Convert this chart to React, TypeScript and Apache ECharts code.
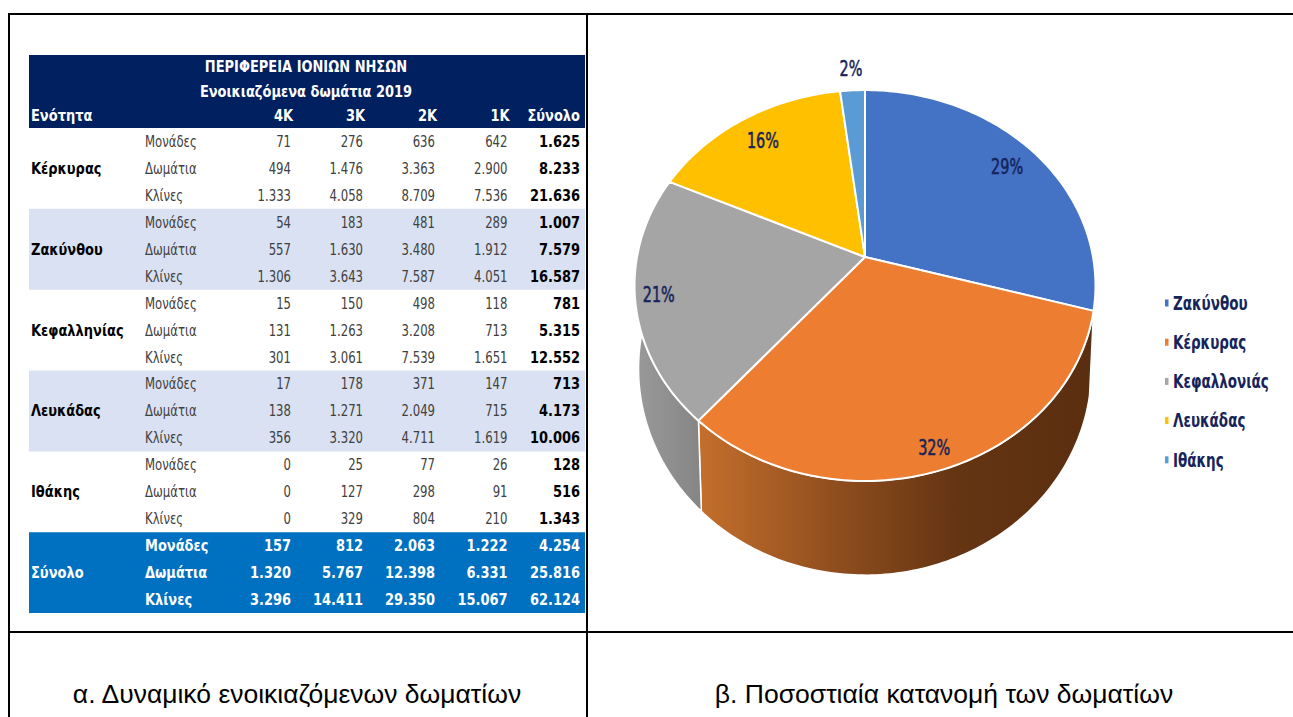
import React, { useEffect, useRef } from "react";
import * as echarts from "echarts";

// ---- table data ----
const titleLines = ["ΠΕΡΙΦΕΡΕΙΑ ΙΟΝΙΩΝ ΝΗΣΩΝ", "Ενοικιαζόμενα δωμάτια 2019"];
const headerFirst = "Ενότητα";
const columnHeads = ["4K", "3K", "2K", "1K", "Σύνολο"];
const measures = ["Μονάδες", "Δωμάτια", "Κλίνες"];
const units = ["Κέρκυρας", "Ζακύνθου", "Κεφαλληνίας", "Λευκάδας", "Ιθάκης"];
const kerkyra = [
  ["71", "276", "636", "642", "1.625"],
  ["494", "1.476", "3.363", "2.900", "8.233"],
  ["1.333", "4.058", "8.709", "7.536", "21.636"],
];
const zakynthos = [
  ["54", "183", "481", "289", "1.007"],
  ["557", "1.630", "3.480", "1.912", "7.579"],
  ["1.306", "3.643", "7.587", "4.051", "16.587"],
];
const kefallinia = [
  ["15", "150", "498", "118", "781"],
  ["131", "1.263", "3.208", "713", "5.315"],
  ["301", "3.061", "7.539", "1.651", "12.552"],
];
const lefkada = [
  ["17", "178", "371", "147", "713"],
  ["138", "1.271", "2.049", "715", "4.173"],
  ["356", "3.320", "4.711", "1.619", "10.006"],
];
const ithaki = [
  ["0", "25", "77", "26", "128"],
  ["0", "127", "298", "91", "516"],
  ["0", "329", "804", "210", "1.343"],
];
const unitRows = [kerkyra, zakynthos, kefallinia, lefkada, ithaki];
const totalLabel = "Σύνολο";
const totals = [
  ["157", "812", "2.063", "1.222", "4.254"],
  ["1.320", "5.767", "12.398", "6.331", "25.816"],
  ["3.296", "14.411", "29.350", "15.067", "62.124"],
];

// ---- pie data ----
const sliceNames = ["Ζακύνθου", "Κέρκυρας", "Κεφαλλονιάς", "Λευκάδας", "Ιθάκης"];
const sliceValues = [7579, 8233, 5315, 4173, 516];
const sliceLabels = ["29%", "32%", "21%", "16%", "2%"];
const sliceColors = ["#4472C4", "#ED7D31", "#A5A5A5", "#FFC000", "#5B9BD5"];
const labelRadius = [0.84, 0.91, 0.9, 0.83, 1.15];

const captions = ["α. Δυναμικό ενοικιαζόμενων δωματίων", "β. Ποσοστιαία κατανομή των δωματίων"];

// ---- fonts and layout ----
const REG = '"DejaVu Sans Condensed", "DejaVu Sans"';
const NAVY = "#16245A";
const colRight = [291, 363, 435, 507.5, 580];
const TABLE_L = 29, TABLE_R = 585, HEAD_T = 55, BODY_T = 128, ROW_H = 26.95;
const STRETCH = 1.2;
const LEGEND_Y0 = 303, LEGEND_STEP = 39.2;

function text(t: string, x: number, y: number, fill: string, font: string, align = "left", scaleY = STRETCH) {
  return {
    type: "text",
    silent: true,
    x,
    y,
    scaleY,
    style: { text: t, x: 0, y: 0, fill, font, align, verticalAlign: "middle" },
  };
}
function rect(x: number, y: number, w: number, h: number, fill: string) {
  return { type: "rect", silent: true, shape: { x, y, width: w, height: h }, style: { fill } };
}

function tableElements() {
  const out: any[] = [];
  // page rules
  const black = "#000";
  out.push(rect(8, 13, 1285, 2, black));
  out.push(rect(8, 13, 2, 704, black));
  out.push(rect(586, 13, 2, 704, black));
  out.push(rect(8, 631, 1285, 2, black));
  // bands
  out.push(rect(TABLE_L, HEAD_T, TABLE_R - TABLE_L, BODY_T - HEAD_T, "#002060"));
  out.push(rect(TABLE_L, BODY_T + ROW_H * 3, TABLE_R - TABLE_L, ROW_H * 3, "#D9E1F2"));
  out.push(rect(TABLE_L, BODY_T + ROW_H * 9, TABLE_R - TABLE_L, ROW_H * 3, "#D9E1F2"));
  out.push(rect(TABLE_L, BODY_T + ROW_H * 15, TABLE_R - TABLE_L, ROW_H * 3, "#0070C0"));
  const hb = `bold 13px "DejaVu Sans"`;
  out.push(text(titleLines[0], 306, 67, "#fff", hb, "center"));
  out.push(text(titleLines[1], 306, 92, "#fff", hb, "center"));
  out.push(text(headerFirst, 31, 116, "#fff", hb));
  columnHeads.forEach((c, i) => out.push(text(c, colRight[i] + (i < 4 ? 2 : 0), 116, "#fff", hb, "right")));
  unitRows.forEach((rows, u) => {
    out.push(text(units[u], 31, BODY_T + ROW_H * (u * 3 + 1.5), "#000", hb));
    rows.forEach((row, r) => {
      const y = BODY_T + ROW_H * (u * 3 + r + 0.5);
      out.push(text(measures[r], 145, y, "#404040", `13px ${REG}`));
      row.forEach((v, c) =>
        out.push(text(v, colRight[c], y, c === 4 ? "#000" : "#404040", c === 4 ? hb : `13px ${REG}`, "right")),
      );
    });
  });
  out.push(text(totalLabel, 31, BODY_T + ROW_H * 16.5, "#fff", hb));
  totals.forEach((row, r) => {
    const y = BODY_T + ROW_H * (15 + r + 0.5);
    out.push(text(measures[r], 145, y, "#fff", hb));
    row.forEach((v, c) => out.push(text(v, colRight[c], y, "#fff", hb, "right")));
  });
  out.push(text(captions[0], 297, 694, "#000", '26.5px "Liberation Sans"', "center", 1));
  out.push(text(captions[1], 944, 694, "#000", '26.5px "Liberation Sans"', "center", 1));
  // legend keys and names
  sliceNames.forEach((name, i) => {
    const y = LEGEND_Y0 + LEGEND_STEP * i;
    out.push(rect(1165, y - 3.5, 3.5, 7, sliceColors[i]));
    out.push(text(name, 1173, y, NAVY, `bold 15px ${REG}`, "left", 1.3));
  });
  return out;
}

// ---- perspective projection of the pie disc ----
const CX = 865;
const topFace = { y0: 257, a: 191.3, b: -0.146, c: 228 };
const baseFace = { y0: 338.6, a: 202, b: -0.146, c: 224 };
function project(f: typeof topFace, theta: number, r = 1) {
  const u = Math.sin(theta) * r;
  const v = -Math.cos(theta) * r;
  const d = 1 + f.b * v;
  return [CX + (f.c * u) / d, f.y0 + (f.a * v) / d];
}
const sum = sliceValues.reduce((a, b) => a + b, 0);
function sliceRange(i: number) {
  let acc = 0;
  for (let k = 0; k < i; k++) acc += sliceValues[k];
  return [(acc / sum) * Math.PI * 2, ((acc + sliceValues[i]) / sum) * Math.PI * 2];
}
function arc(f: typeof topFace, a0: number, a1: number) {
  const n = Math.max(2, Math.ceil(((a1 - a0) * 180) / Math.PI));
  const pts: number[][] = [];
  for (let k = 0; k <= n; k++) pts.push(project(f, a0 + ((a1 - a0) * k) / n));
  return pts;
}
const wallFill = [
  () => "#2A4478",
  () =>
    new echarts.graphic.LinearGradient(0, 0, 1, 0, [
      { offset: 0, color: "#C46F2C" },
      { offset: 0.35, color: "#8F4E1E" },
      { offset: 0.65, color: "#653513" },
      { offset: 1, color: "#5A2E10" },
    ]),
  () =>
    new echarts.graphic.LinearGradient(0, 0, 1, 0, [
      { offset: 0, color: "#9A9A9A" },
      { offset: 1, color: "#858585" },
    ]),
  () => "#99730A",
  () => "#375D80",
];

function renderSlice(i: number) {
  return (_params: any, _api: any) => {
    const [a0, a1] = sliceRange(i);
    const top = arc(topFace, a0, a1);
    const base = arc(baseFace, a0, a1);
    const apex = [CX, topFace.y0];
    const mid = project(topFace, (a0 + a1) / 2, labelRadius[i]);
    return {
      type: "group",
      children: [
        {
          type: "polygon",
          z2: 1,
          shape: { points: [...top, ...base.slice().reverse()] },
          style: { fill: wallFill[i](), stroke: "#fff", lineWidth: 1.5 },
        },
        {
          type: "polygon",
          z2: 10,
          shape: { points: [apex, ...top] },
          style: { fill: sliceColors[i], stroke: "#fff", lineWidth: 2, lineJoin: "round" },
        },
        {
          type: "text",
          z2: 20,
          x: mid[0],
          y: mid[1],
          scaleY: 1.3,
          style: {
            text: sliceLabels[i],
            x: 0,
            y: 0,
            fill: NAVY,
            stroke: NAVY,
            lineWidth: 0.4,
            font: `16px ${REG}`,
            align: "center",
            verticalAlign: "middle",
          },
        },
      ],
    };
  };
}

export default function App() {
  const ref = useRef<HTMLDivElement>(null);
  useEffect(() => {
    const chart = echarts.init(ref.current!, undefined, { renderer: "svg" });
    chart.setOption({
      animation: false,
      backgroundColor: "#fff",
      graphic: { elements: tableElements() },
      series: sliceNames.map((name, i) => ({
        type: "custom",
        name,
        coordinateSystem: "none",
        silent: true,
        itemStyle: { color: sliceColors[i] },
        data: [[sliceValues[i]]],
        renderItem: renderSlice(i),
      })),
    });
    return () => chart.dispose();
  }, []);
  return <div ref={ref} style={{ position: "absolute", left: 0, top: 0, width: 1293, height: 717 }} />;
}
